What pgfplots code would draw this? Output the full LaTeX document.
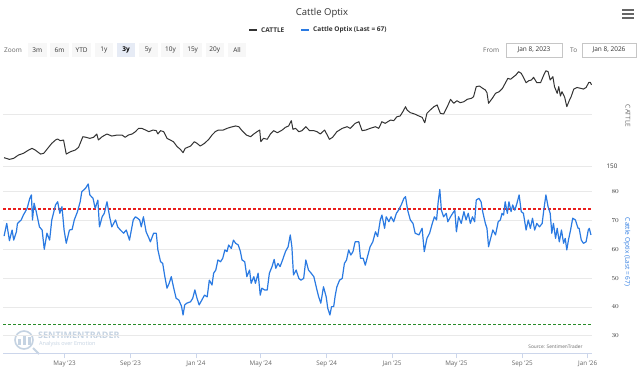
\documentclass[border=0pt]{standalone}
\usepackage{pgfplots}
\usepackage{pgfplotstable}
\pgfplotsset{compat=1.18}
\usepackage{fontspec}
\setmainfont{Open Sans}
\definecolor{optix}{HTML}{2A7AE2}
\definecolor{cattle}{HTML}{333333}
\definecolor{gridc}{HTML}{E9E9E9}
\definecolor{xaxc}{HTML}{CCD6EB}
\definecolor{lab}{HTML}{666666}
\definecolor{dk}{HTML}{333333}
\definecolor{btn}{HTML}{F7F7F7}
\definecolor{btnsel}{HTML}{E6EBF5}
\definecolor{threshred}{RGB}{235,30,30}
\definecolor{threshgreen}{RGB}{40,140,40}
\definecolor{wm}{HTML}{C5D3E2}

\pgfplotstableread{
d v
7 158.0
17 156.4
25 157.4
34 160.6
43 162.2
53 165.4
59 167.0
65 165.4
75 161.5
81 162.2
90 168.0
96 171.8
103 175.0
107 176.0
112 174.3
118 175.0
123 161.5
131 163.8
140 165.4
146 168.0
149 171.8
154 178.2
160 177.6
167 176.6
174 177.6
180 180.8
183 175.0
190 178.2
199 180.8
208 178.8
218 179.8
227 179.8
233 177.6
239 179.8
246 180.8
252 183.0
258 186.2
264 186.2
271 184.6
277 183.0
285 184.6
291 184.0
294 180.8
299 184.0
305 183.0
311 176.6
317 175.0
323 173.4
330 168.6
336 166.0
341 162.8
345 167.0
355 169.2
362 173.4
367 171.8
373 169.2
381 171.8
389 175.7
395 179.8
401 183.0
407 184.6
416 184.6
423 186.2
429 187.2
439 188.5
445 187.8
451 184.0
459 179.8
467 178.2
473 180.8
479 183.0
484 184.6
486 173.4
491 176.6
498 175.7
504 180.8
510 184.0
517 182.0
526 184.6
532 187.2
538 188.5
543 193.6
546 185.3
551 186.2
557 183.0
563 184.0
570 187.8
577 184.0
585 184.0
591 183.0
597 180.8
605 184.6
610 179.8
614 175.7
620 177.6
628 183.0
638 186.2
647 187.8
653 186.2
662 191.0
669 192.6
675 184.0
682 184.6
690 186.2
700 187.8
706 186.2
712 192.6
718 191.0
728 194.2
734 193.6
740 197.4
746 198.1
751 202.2
756 207.0
759 203.8
765 201.3
773 200.0
781 198.1
787 196.8
792 191.6
796 200.7
802 203.8
809 207.0
815 208.7
821 200.7
827 200.0
834 207.0
840 214.1
846 210.3
852 212.8
858 210.9
865 211.8
871 214.1
879 215.1
883 216.6
888 226.3
894 226.9
900 224.7
905 223.1
908 220.5
911 210.3
918 215.1
924 219.9
931 221.5
937 224.7
942 229.5
947 234.3
952 233.4
958 235.9
962 237.5
967 240.7
972 239.1
976 235.3
981 230.1
986 232.0
991 232.7
995 235.3
1001 230.1
1008 230.1
1014 237.5
1018 241.6
1022 240.7
1026 232.7
1031 235.9
1034 226.3
1039 219.9
1042 226.3
1045 217.3
1048 221.5
1053 216.1
1057 207.0
1062 213.5
1065 216.6
1070 224.0
1076 225.5
1082 224.8
1088 224.0
1093 225.5
1098 230.3
1101 230.3
1103 228.0
}\cattletable

\pgfplotstableread{
d v
7 64.6
12 69.0
17 63.0
22 66.7
25 63.2
30 66.1
32 69.0
39 70.2
43 71.9
50 74.2
55 77.7
58 78.9
60 70.2
63 76.0
67 73.1
73 67.8
78 66.7
82 60.0
87 65.6
92 63.2
96 70.2
103 75.4
107 76.5
111 72.5
115 74.8
119 66.7
123 62.1
129 66.7
134 66.9
138 70.2
144 73.1
149 76.5
152 80.0
159 81.2
164 82.7
167 78.9
173 77.7
177 74.2
182 77.1
185 67.8
190 71.3
194 72.5
199 76.5
204 71.3
208 67.8
215 70.2
219 67.8
224 66.7
230 65.6
235 66.7
241 63.2
248 70.2
252 71.3
256 70.8
260 70.2
263 67.8
267 71.3
272 66.1
277 64.0
280 62.6
286 65.6
291 65.6
294 59.8
299 55.7
303 55.1
307 50.5
311 46.5
315 48.2
319 50.5
323 47.0
328 43.0
333 42.4
338 40.3
341 37.2
344 40.7
348 41.3
355 41.8
359 43.0
363 45.9
367 43.0
371 40.7
376 42.4
381 44.1
386 43.5
390 49.3
395 47.6
398 51.7
402 52.8
406 56.3
411 55.7
415 56.9
419 59.8
423 59.2
426 61.5
431 60.3
435 63.2
439 62.1
444 61.5
448 59.2
451 56.3
456 55.7
460 50.5
465 52.8
468 48.2
473 50.5
476 48.2
481 51.7
485 44.1
488 46.5
493 45.9
498 45.9
502 51.7
507 54.0
511 56.5
514 53.4
518 55.1
522 54.0
527 56.5
532 59.2
537 60.9
541 65.0
544 60.9
547 51.1
552 52.8
557 49.9
561 49.3
566 49.9
570 56.3
575 52.8
580 51.7
585 50.5
590 46.5
594 43.5
598 41.3
603 47.0
608 43.5
611 39.5
615 37.2
618 40.1
622 40.1
625 44.1
628 47.0
633 49.3
638 49.9
642 55.1
646 56.3
650 59.8
654 58.0
658 59.2
662 62.6
669 62.6
672 56.9
677 56.9
681 54.5
685 57.4
690 60.9
695 62.6
700 66.1
704 64.4
709 70.2
712 71.9
717 67.3
720 71.3
725 69.6
729 71.3
734 69.6
739 72.5
743 73.6
748 75.4
753 77.7
756 78.3
760 73.6
765 70.2
770 69.0
774 65.6
781 65.0
787 67.3
791 59.2
796 63.8
801 65.6
806 69.0
810 71.3
814 70.2
817 76.5
820 80.8
823 73.6
827 71.3
832 72.5
835 69.6
840 71.3
844 72.5
848 73.6
851 66.1
855 71.3
860 69.0
865 73.1
869 70.2
873 72.5
877 69.0
881 71.3
885 69.6
888 77.1
893 77.7
897 76.5
900 73.1
905 69.0
908 67.3
911 60.9
914 63.2
919 66.7
924 65.0
929 69.6
933 70.2
936 72.5
939 71.9
942 76.5
946 72.5
949 76.5
953 73.1
956 75.4
960 73.6
964 76.0
968 78.9
972 73.1
976 72.5
981 66.7
985 70.2
989 67.3
993 70.8
997 66.7
1001 69.0
1006 67.8
1011 69.0
1014 73.6
1018 78.9
1022 74.8
1026 72.5
1029 65.6
1032 69.0
1036 63.8
1039 67.3
1043 62.6
1047 66.7
1051 62.1
1054 63.8
1057 59.8
1060 63.2
1064 66.7
1068 70.8
1073 70.2
1078 67.3
1080 67.3
1084 63.2
1088 62.1
1093 62.6
1097 66.7
1099 67.3
1102 65.0
}\optixtable

\begin{document}
\begin{tikzpicture}[x=1pt,y=1pt]
\path[use as bounding box, fill=white] (0,0) rectangle (644,370);

% ---- header ----
\node[text=dk, font=\fontsize{9.5}{11}\selectfont] at (322,357) {Cattle Optix};
\draw[cattle, line width=1.2pt] (249,340) -- (257,340);
\node[anchor=west, text=dk, font=\fontsize{6.5}{8}\selectfont\bfseries, inner sep=0] at (261,340) {CATTLE};
\draw[optix, line width=1.2pt] (301,340) -- (309,340);
\node[anchor=west, text=dk, font=\fontsize{6.5}{8}\selectfont\bfseries, inner sep=0] at (313,340) {Cattle Optix (Last = 67)};
% hamburger
\foreach \yy in {352,356,360} \draw[lab, line width=1.4pt] (622,\yy) -- (634,\yy);

% zoom row
\node[anchor=west, text=lab, font=\fontsize{6.5}{8}\selectfont, inner sep=0] at (4,320) {Zoom};
\foreach \lbl [count=\i from 0] in {3m,6m,YTD,1y,3y,5y,10y,15y,20y,All}{
  \pgfmathsetmacro{\bx}{28+22.2*\i}
  \ifnum\i=4
    \fill[btnsel] (\bx,313) rectangle ++(18.5,14);
    \node[text=black, font=\fontsize{6.5}{8}\selectfont\bfseries] at (\bx+9.25,320) {\lbl};
  \else
    \fill[btn] (\bx,313) rectangle ++(18.5,14);
    \node[text=dk, font=\fontsize{6.5}{8}\selectfont] at (\bx+9.25,320) {\lbl};
  \fi
}
\node[anchor=west, text=lab, font=\fontsize{6.5}{8}\selectfont, inner sep=0] at (483,320) {From};
\draw[gray!45, fill=white] (506,313) rectangle (562,327);
\node[text=dk, font=\fontsize{6.5}{8}\selectfont] at (534,320) {Jan 8, 2023};
\node[anchor=west, text=lab, font=\fontsize{6.5}{8}\selectfont, inner sep=0] at (570,320) {To};
\draw[gray!45, fill=white] (582,313) rectangle (636,327);
\node[text=dk, font=\fontsize{6.5}{8}\selectfont] at (609,320) {Jan 8, 2026};

% ---- watermark ----
\begin{scope}[wm]
  \draw[line width=1.6pt] (24,30) circle (9);
  \draw[line width=2pt] (33,22) -- (39,16);
  \fill (18,25) rectangle (21,31);
  \fill (23,25) rectangle (26,35);
  \fill (28,25) rectangle (31,33);
\end{scope}
\node[anchor=west, text=wm, font=\fontsize{9}{10}\selectfont\bfseries, inner sep=0] at (38,35) {SENTIMENTRADER};
\node[anchor=west, text=wm, font=\fontsize{5.5}{6}\selectfont, inner sep=0] at (39,26) {Analysis over Emotion};

% ---- top panel ----
\begin{axis}[
  at={(3pt,202pt)}, anchor=south west, scale only axis,
  width=589pt, height=106pt,
  xmin=5, xmax=1104, ymin=148.1, ymax=250,
  axis line style={draw=none},
  xtick=\empty,
  ytick={150,200}, yticklabels={150,},
  ymajorgrids, grid style={gridc, line width=0.6pt},
  yticklabel pos=right,
  ytick style={draw=none},
  yticklabel style={anchor=west, xshift=11pt, text=dk, font=\fontsize{6.3}{7}\selectfont},
  clip=false,
]
\addplot[cattle, line width=1pt, line join=round] table[x=d, y=v] {\cattletable};
\end{axis}
\node[rotate=-90, text=lab, font=\fontsize{6.5}{8}\selectfont] at (628,254) {CATTLE};

% ---- bottom panel ----
\begin{axis}[
  at={(3pt,17pt)}, anchor=south west, scale only axis,
  width=589pt, height=172.8pt,
  xmin=5, xmax=1104, ymin=24, ymax=84,
  axis x line*=bottom, axis y line*=right,
  y axis line style={draw=none},
  x axis line style={draw=xaxc, line width=0.8pt, -},
  xtick={120,243,365,486,609,731,851,974,1096},
  xticklabels={May '23,Sep '23,Jan '24,May '24,Sep '24,Jan '25,May '25,Sep '25,Jan '26},
  xtick style={draw=xaxc, line width=0.8pt},
  tick align=outside, major tick length=5pt,
  xticklabel style={text=lab, font=\fontsize{6.3}{7}\selectfont, yshift=1pt},
  ytick={30,40,50,60,70,80},
  ytick style={draw=none},
  ymajorgrids, grid style={gridc, line width=0.6pt},
  yticklabel style={anchor=west, xshift=11pt, text=dk, font=\fontsize{6.3}{7}\selectfont},
  clip=false,
]
\addplot[draw=threshred, line width=1.1pt, dash pattern=on 3pt off 2pt] coordinates {(5,74) (1104,74)};
\addplot[draw=threshgreen, line width=1.1pt, dash pattern=on 3pt off 2pt] coordinates {(5,34) (1104,34)};
\addplot[optix, line width=1.2pt, line join=round] table[x=d, y=v] {\optixtable};
\end{axis}
\node[rotate=-90, text=optix, font=\fontsize{6.5}{8}\selectfont] at (627,118) {Cattle Optix (Last = 67)};
\node[anchor=east, text=lab, font=\fontsize{4.8}{6}\selectfont] at (586,23) {Source: SentimenTrader};
\end{tikzpicture}
\end{document}
